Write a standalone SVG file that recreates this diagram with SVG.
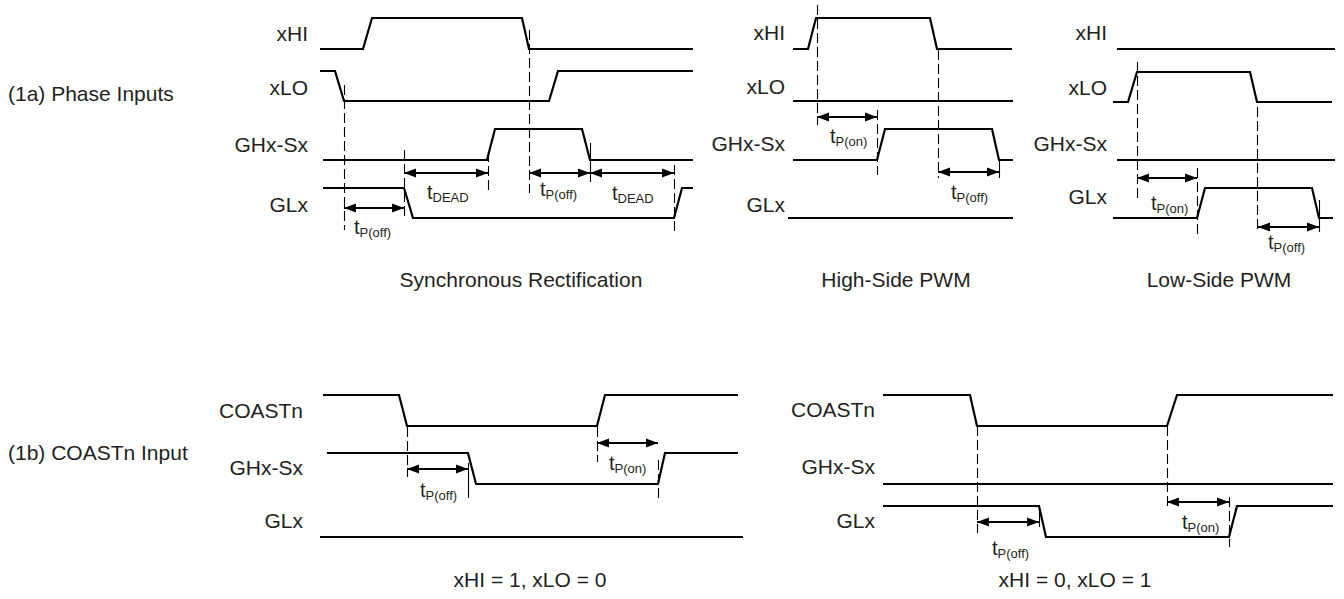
<svg xmlns="http://www.w3.org/2000/svg" width="1344" height="599" viewBox="0 0 1344 599">
<style>
text{font-family:"Liberation Sans",Arial,Helvetica,sans-serif;font-size:21px;fill:#231f20}
.lbl{text-anchor:end}
.cap{text-anchor:middle}
.t{font-size:20px}
.sub{font-size:13px}
.w{fill:none;stroke:#000;stroke-width:2.2;stroke-linejoin:miter}
.d{stroke:#000;stroke-width:1.1;stroke-dasharray:10,4;fill:none}
.k{stroke:#000;stroke-width:1.1;fill:none}
.a{stroke:#000;stroke-width:2;fill:none;marker-start:url(#ah);marker-end:url(#ah)}
</style>
<defs>
<marker id="ah" markerUnits="userSpaceOnUse" markerWidth="13" markerHeight="10" viewBox="0 0 13 10" refX="12" refY="5" orient="auto-start-reverse">
<path d="M0,0.5 L12,5 L0,9.5 z" fill="#000"/>
</marker>
</defs>
<rect width="1344" height="599" fill="#fff"/>

<g id="headings">
<text x="8" y="101">(1a) Phase Inputs</text>
<text x="8" y="460">(1b) COASTn Input</text>
</g>

<!-- Panel 1: Synchronous Rectification -->
<g id="sync-xHI"><text class="lbl" x="308" y="41">xHI</text><path class="w" d="M320,49 H363 L372,18 H522 L529,49 H693"/></g>
<g id="sync-xLO"><text class="lbl" x="308" y="95">xLO</text><path class="w" d="M320,71 H335 L344,101 H549 L558,71 H693"/></g>
<g id="sync-GHx"><text class="lbl" x="308" y="152">GHx-Sx</text><path class="w" d="M323,160 H487 L495,129 H582 L590,160 H693"/></g>
<g id="sync-GLx"><text class="lbl" x="308" y="212">GLx</text><path class="w" d="M323,188 H404 L413,218 H674 L682,188 H693"/></g>
<text id="sync-caption" class="cap" x="521" y="287">Synchronous Rectification</text>

<!-- Panel 2: High-Side PWM -->
<g id="hs-xHI"><text class="lbl" x="785" y="40">xHI</text><path class="w" d="M793,49 H808 L816,18 H930 L937,49 H1012"/></g>
<g id="hs-xLO"><text class="lbl" x="785" y="94">xLO</text><path class="w" d="M793,101 H1013"/></g>
<g id="hs-GHx"><text class="lbl" x="785" y="151">GHx-Sx</text><path class="w" d="M793,160 H877 L885,129 H992 L999,160 H1013"/></g>
<g id="hs-GLx"><text class="lbl" x="785" y="212">GLx</text><path class="w" d="M788,218 H1013"/></g>
<text id="hs-caption" class="cap" x="896" y="287">High-Side PWM</text>

<!-- Panel 3: Low-Side PWM -->
<g id="ls-xHI"><text class="lbl" x="1107" y="40">xHI</text><path class="w" d="M1117,49 H1335"/></g>
<g id="ls-xLO"><text class="lbl" x="1107" y="95">xLO</text><path class="w" d="M1113,102 H1128 L1137,72 H1250 L1257,102 H1332"/></g>
<g id="ls-GHx"><text class="lbl" x="1107" y="151">GHx-Sx</text><path class="w" d="M1117,160 H1335"/></g>
<g id="ls-GLx"><text class="lbl" x="1107" y="204">GLx</text><path class="w" d="M1113,218 H1197 L1205,188 H1312 L1319,218 H1333"/></g>
<text id="ls-caption" class="cap" x="1219" y="287">Low-Side PWM</text>

<!-- Panel 4: COASTn, xHI=1 xLO=0 -->
<g id="c1-COASTn"><text class="lbl" x="303" y="418">COASTn</text><path class="w" d="M323,395 H399 L407,426 H597 L605,395 H738"/></g>
<g id="c1-GHx"><text class="lbl" x="303" y="475">GHx-Sx</text><path class="w" d="M327,453 H468 L476,484 H658 L665,453 H738"/></g>
<g id="c1-GLx"><text class="lbl" x="303" y="528">GLx</text><path class="w" d="M320,537 H743"/></g>
<text id="c1-caption" class="cap" x="530" y="587">xHI = 1, xLO = 0</text>

<!-- Panel 5: COASTn, xHI=0 xLO=1 -->
<g id="c2-COASTn"><text class="lbl" x="875" y="417">COASTn</text><path class="w" d="M883,395 H970 L977,426 H1167 L1177,395 H1333"/></g>
<g id="c2-GHx"><text class="lbl" x="875" y="474">GHx-Sx</text><path class="w" d="M883,484 H1333"/></g>
<g id="c2-GLx"><text class="lbl" x="875" y="528">GLx</text><path class="w" d="M883,506 H1039 L1046,537 H1229 L1237,506 H1333"/></g>
<text id="c2-caption" class="cap" x="1075" y="587">xHI = 0, xLO = 1</text>

<g id="connectors">
<g transform="translate(0.5,0)">
<path class="d" d="M344,85 V230 M404,150 V218 M488,152 V193 M529,30 V193 M674,165 V232"/>
<path class="k" d="M590,143 V182"/>
<path class="d" d="M817,5 V125 M877,110 V175 M938,50 V178"/>
<path class="k" d="M999,160 V178"/>
<path class="d" d="M1137,62 V200 M1197,168 V235 M1257,107 V232"/>
<path class="k" d="M1319,200 V232"/>
<path class="d" d="M407,427 V477 M597,427 V462 M658,460 V500"/>
<path class="k" d="M468,463 V498"/>
<path class="d" d="M977,426 V533 M1167,426 V507 M1229,497 V547"/>
<path class="k" d="M1039,506 V527"/>
</g>
<line class="a" x1="344" y1="208" x2="404" y2="208"/>
<line class="a" x1="404" y1="173" x2="488" y2="173"/>
<line class="a" x1="529" y1="173" x2="590" y2="173"/>
<line class="a" x1="590" y1="173" x2="674" y2="173"/>
<line class="a" x1="817" y1="117" x2="877" y2="117"/>
<line class="a" x1="938" y1="172" x2="999" y2="172"/>
<line class="a" x1="1137" y1="178" x2="1197" y2="178"/>
<line class="a" x1="1258" y1="227" x2="1319" y2="227"/>
<line class="a" x1="407" y1="469" x2="468" y2="469"/>
<line class="a" x1="597" y1="443" x2="658" y2="443"/>
<line class="a" x1="977" y1="522" x2="1039" y2="522"/>
<line class="a" x1="1167" y1="502" x2="1229" y2="502"/>
</g>

<g id="timing-labels">
<text class="t" x="354" y="234">t<tspan class="sub" dy="3">P(off)</tspan></text>
<text class="t" x="427" y="199">t<tspan class="sub" dy="3">DEAD</tspan></text>
<text class="t" x="540" y="196">t<tspan class="sub" dy="3">P(off)</tspan></text>
<text class="t" x="612" y="200">t<tspan class="sub" dy="3">DEAD</tspan></text>
<text class="t" x="830" y="143">t<tspan class="sub" dy="3">P(on)</tspan></text>
<text class="t" x="951" y="199">t<tspan class="sub" dy="3">P(off)</tspan></text>
<text class="t" x="1151" y="210">t<tspan class="sub" dy="3">P(on)</tspan></text>
<text class="t" x="1268" y="249">t<tspan class="sub" dy="3">P(off)</tspan></text>
<text class="t" x="420" y="497">t<tspan class="sub" dy="3">P(off)</tspan></text>
<text class="t" x="609" y="470">t<tspan class="sub" dy="3">P(on)</tspan></text>
<text class="t" x="992" y="555">t<tspan class="sub" dy="3">P(off)</tspan></text>
<text class="t" x="1182" y="529">t<tspan class="sub" dy="3">P(on)</tspan></text>
</g>
</svg>
